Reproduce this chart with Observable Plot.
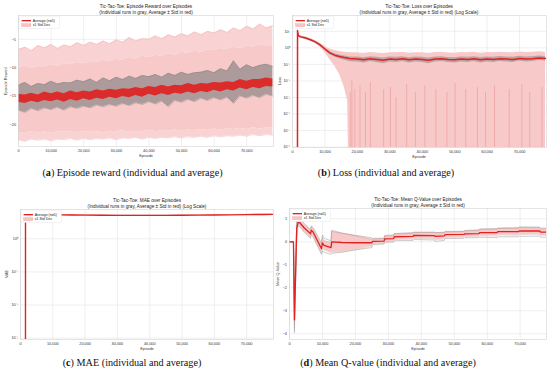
<!DOCTYPE html>
<html><head><meta charset="utf-8">
<script src="https://cdn.jsdelivr.net/npm/d3@7"></script>
<script src="https://cdn.jsdelivr.net/npm/@observablehq/plot@0.6"></script>
<style>
body{margin:0;background:#fff;}
#fig{position:relative;width:550px;height:375px;overflow:hidden;font-family:"Liberation Sans",Arial,sans-serif;}
#fig svg{position:absolute;}
.t,.yl,.xl{position:absolute;line-height:1;white-space:nowrap;color:#222;transform-origin:center center;}
.t{font-size:14.1px;transform:translate(-50%,-50%) scale(0.3333);}
.xl{font-size:11.4px;transform:translate(-50%,-50%) scale(0.3333);color:#333;}
.yl{font-size:11.4px;transform:translate(-50%,-50%) rotate(-90deg) scale(0.3333);color:#333;}
.cap{position:absolute;font-family:"Liberation Serif","DejaVu Serif",serif;font-size:10.2px;line-height:1;white-space:nowrap;transform:translate(-50%,-50%);color:#111;}
.leg{position:absolute;width:121.5px;height:37.8px;background:#fff;border:1.4px solid #dcdcdc;border-radius:3px;box-sizing:border-box;transform-origin:0 0;transform:scale(0.3333);}
.leg .row{position:absolute;font-size:10.5px;line-height:1;white-space:nowrap;color:#222;}
.leg .ln{position:absolute;height:4px;background:#e02020;}
.leg .pt{position:absolute;height:9px;background:#f7c4c4;border:1.2px solid #eda0a0;box-sizing:border-box;}
</style></head>
<body><div id="fig"></div>
<script>
// ---------- shared ----------
const xTicks = [0, 10000, 20000, 30000, 40000, 50000, 60000, 70000];

// ---------- (a) Episode reward ----------
const rewardEpisode = [0,2000,4000,6000,8000,10000,12000,14000,16000,18000,20000,22000,24000,26000,28000,30000,32000,34000,36000,38000,40000,42000,44000,46000,48000,50000,52000,54000,56000,58000,60000,62000,64000,66000,68000,70000,72000,74000,76000,78000];
const rewardAvgHigh = [-14.7,-14.8,-14.5,-14.8,-14.3,-14.6,-14.3,-14.6,-14.1,-14.4,-14.1,-14.3,-13.9,-14.1,-13.8,-14.0,-13.7,-13.8,-13.5,-13.7,-13.3,-13.5,-13.1,-13.4,-13.1,-13.2,-12.8,-13.1,-12.8,-12.9,-12.6,-12.7,-12.5,-12.6,-12.1,-12.4,-12.1,-12.1,-11.8,-12.0];
const rewardAvgLow = [-16.1,-16.3,-15.9,-16.2,-15.8,-16.0,-15.7,-16.1,-15.6,-15.9,-15.5,-15.8,-15.4,-15.6,-15.2,-15.5,-15.1,-15.3,-14.9,-15.2,-14.7,-15.0,-14.6,-14.9,-14.5,-14.7,-14.3,-14.6,-14.2,-14.4,-14.0,-14.3,-13.9,-14.1,-13.6,-13.9,-13.5,-13.7,-13.3,-13.4];
const rewardRunsHigh = [-13.1,-12.6,-13.3,-12.8,-13.0,-12.4,-12.9,-12.6,-12.7,-12.2,-12.5,-12.0,-12.6,-11.8,-12.3,-11.7,-12.1,-11.5,-11.9,-11.4,-11.6,-11.2,-11.7,-11.0,-11.4,-10.8,-11.2,-10.9,-10.8,-10.5,-10.9,-10.2,-10.6,-8.8,-10.3,-9.5,-10.0,-9.6,-9.4,-9.8];
const rewardRunsLow = [-17.5,-17.9,-17.2,-17.6,-17.1,-17.4,-17.0,-17.5,-16.9,-17.2,-16.8,-17.1,-16.6,-16.9,-16.5,-16.8,-16.3,-16.7,-16.2,-16.5,-16.0,-16.4,-15.9,-16.9,-15.8,-16.1,-15.6,-16.0,-15.4,-15.8,-15.3,-15.7,-15.2,-16.3,-15.0,-15.4,-14.9,-15.3,-14.7,-15.0];
const rewardStdUpperTop = [-6.8,-6.4,-7.0,-6.1,-6.5,-5.9,-6.6,-6.0,-6.3,-5.6,-6.1,-5.5,-5.9,-5.3,-5.8,-5.1,-5.5,-4.7,-5.3,-4.9,-5.0,-4.4,-4.9,-4.2,-4.6,-4.0,-4.4,-3.7,-4.2,-3.6,-3.9,-3.3,-3.8,-3.0,-3.5,-2.7,-3.2,-2.3,-3.0,-2.6];
const rewardStdUpperBase = [-10.0,-9.7,-10.2,-9.8,-9.9,-9.5,-9.8,-9.3,-9.5,-9.1,-9.3,-8.9,-9.1,-8.7,-8.9,-8.5,-8.7,-8.2,-8.5,-8.0,-8.2,-7.8,-8.0,-7.6,-7.8,-7.3,-7.5,-7.1,-7.3,-6.9,-7.0,-6.6,-6.8,-6.4,-6.6,-6.2,-6.4,-5.9,-6.2,-6.1];
const rewardStdLowerTop = [-21.4,-21.6,-21.3,-21.5,-21.3,-21.6,-21.3,-21.4,-21.3,-21.5,-21.2,-21.4,-21.2,-21.5,-21.2,-21.3,-21.1,-21.4,-21.2,-21.3,-21.0,-21.3,-21.1,-21.2,-21.0,-21.2,-21.0,-21.1,-20.9,-21.1,-20.8,-21.0,-20.8,-20.9,-20.7,-20.9,-20.6,-20.8,-20.6,-20.7];
const rewardStdLowerBottom = [-22.7,-23.0,-22.6,-22.8,-22.6,-22.9,-22.6,-22.7,-22.5,-22.8,-22.5,-22.7,-22.5,-22.6,-22.4,-22.7,-22.4,-22.5,-22.3,-22.6,-22.3,-22.5,-22.3,-22.4,-22.2,-22.4,-22.2,-22.3,-22.1,-22.3,-22.0,-22.2,-22.0,-22.1,-21.9,-22.1,-21.8,-22.0,-21.8,-21.9];
const rewardTicks = [-5, -10, -15, -20];

// ---------- (b) Loss ----------
const lossEpisode = [1530,1550,1800,2500,4000,5500,7000,8500,10000,11500,13000,14500,16000,17000,17500,19000,20000,22000,24000,26000,28000,30000,32000,34000,36000,38000,40000,42000,44000,46000,48000,50000,52000,54000,56000,58000,60000,62000,64000,66000,68000,70000,72000,74000,76000,78000];
const lossMean = [1e-9,11,5.5,4.6,3.9,3.1,2.3,1.5,0.85,0.5,0.36,0.3,0.26,0.24,0.23,0.22,0.21,0.19,0.22,0.2,0.18,0.21,0.2,0.22,0.19,0.21,0.2,0.18,0.21,0.22,0.2,0.19,0.21,0.2,0.22,0.19,0.21,0.2,0.22,0.21,0.2,0.23,0.21,0.22,0.24,0.23];
const lossUpper = [1e-9,12,6.6,5.4,4.6,3.7,2.8,1.9,1.2,0.85,0.68,0.6,0.55,0.52,0.5,0.5,0.5,0.46,0.53,0.49,0.45,0.51,0.5,0.54,0.47,0.51,0.5,0.46,0.52,0.54,0.49,0.47,0.52,0.5,0.54,0.47,0.52,0.5,0.55,0.52,0.5,0.56,0.52,0.54,0.58,0.55];
const lossLower = [1e-9,10,4.5,3.8,3.2,2.5,1.8,1.1,0.5,0.2,0.08,0.025,0.004,0.0006,1e-9,1e-9,1e-9,1e-9,1e-9,1e-9,1e-9,1e-9,1e-9,1e-9,1e-9,1e-9,1e-9,1e-9,1e-9,1e-9,1e-9,1e-9,1e-9,1e-9,1e-9,1e-9,1e-9,1e-9,1e-9,1e-9,1e-9,1e-9,1e-9,1e-9,1e-9,1e-9];
const lossRunsLow = [1e-9,9.8,5.0,4.2,3.6,2.8,2.0,1.3,0.7,0.4,0.28,0.22,0.18,0.16,0.15,0.14,0.14,0.12,0.15,0.13,0.11,0.14,0.13,0.15,0.12,0.14,0.13,0.11,0.14,0.15,0.13,0.12,0.14,0.13,0.15,0.12,0.14,0.13,0.15,0.14,0.13,0.16,0.14,0.15,0.17,0.16];
const lossRunsHigh = [1e-9,11.5,6.0,5.0,4.3,3.4,2.6,1.7,1.0,0.6,0.44,0.37,0.32,0.3,0.28,0.28,0.28,0.25,0.29,0.27,0.24,0.28,0.27,0.29,0.25,0.28,0.27,0.24,0.28,0.29,0.26,0.25,0.28,0.27,0.29,0.26,0.28,0.27,0.3,0.28,0.27,0.31,0.28,0.29,0.32,0.3];
const lossStreakEpisode = [17800,18300,19200,20800,22500,24000,28100,30200,31900,35200,37900,40800,44200,47600,50100,53400,57000,59500,62300,66800,70700,73100,76900];
const lossStreakTop = [2e-3,1e-2,3e-3,5e-3,2e-3,8e-3,3e-3,4e-3,1e-3,6e-3,2e-3,5e-3,3e-3,2e-3,7e-3,3e-3,4e-3,2e-3,5e-3,3e-3,6e-3,2e-3,4e-3];
const lossTicks = [1e1, 1e0, 1e-1, 1e-2, 1e-3, 1e-4, 1e-5, 1e-6];

// ---------- (c) MAE ----------
const maeEpisode = [1530,1550,4000,8000,12000,16000,20000,25000,30000,35000,40000,45000,50000,55000,60000,65000,70000,75000,78000];
const maeMean = [1e-9,5.4,5.35,5.3,5.3,5.25,5.2,5.15,5.12,5.1,5.1,5.12,5.15,5.2,5.25,5.3,5.38,5.45,5.5];
const maeUpper = [1e-9,5.55,5.5,5.45,5.45,5.4,5.35,5.3,5.27,5.25,5.25,5.27,5.3,5.35,5.4,5.45,5.53,5.6,5.65];
const maeLower = [1e-9,5.25,5.2,5.15,5.15,5.1,5.05,5.0,4.97,4.95,4.95,4.97,5.0,5.05,5.1,5.15,5.23,5.3,5.35];
const maeTicks = [1e0, 1e-1, 1e-2, 1e-3];

// ---------- (d) Mean Q-value ----------
const qEpisode = [0,1200,1500,2200,2600,3200,4500,6400,6600,7200,9700,10000,10500,12600,12800,16000,20000,25000,25200,28700,28900,31600,31800,37500,37700,44000,44200,47000,47200,53000,53200,57500,57700,63000,63200,69500,69700,76000,76200,78000];
const qMean = [0,0,-3.4,0.6,0.85,0.82,0.6,0.35,0.5,0.42,-0.3,-0.05,-0.15,-0.25,0.0,-0.03,-0.04,-0.04,0.02,0.03,0.13,0.14,0.22,0.24,0.28,0.27,0.24,0.26,0.31,0.32,0.35,0.36,0.4,0.4,0.44,0.44,0.47,0.47,0.42,0.42];
const qStd = [0,0.02,0.35,0.25,0.1,0.12,0.15,0.15,0.15,0.16,0.18,0.25,0.2,0.22,0.45,0.4,0.3,0.15,0.1,0.1,0.12,0.12,0.12,0.13,0.13,0.14,0.15,0.14,0.12,0.12,0.12,0.13,0.14,0.15,0.14,0.15,0.15,0.14,0.14,0.14];
const qRunsLow = [0,-0.02,-3.95,0.2,0.7,0.65,0.4,0.15,0.3,0.2,-0.55,-0.4,-0.45,-0.55,-0.5,-0.45,-0.35,-0.25,-0.12,-0.1,-0.02,-0.01,0.05,0.06,0.1,0.08,0.02,0.06,0.14,0.15,0.18,0.18,0.2,0.18,0.22,0.22,0.24,0.25,0.2,0.2];
const qRunsHigh = [0,0.02,-2.9,0.95,1.0,0.98,0.8,0.55,0.7,0.62,-0.05,0.3,0.15,0.05,0.5,0.38,0.28,0.18,0.15,0.16,0.28,0.3,0.36,0.4,0.42,0.42,0.4,0.42,0.45,0.46,0.5,0.52,0.56,0.58,0.6,0.62,0.65,0.64,0.6,0.6];
const qTicks = [1, 0, -1, -2, -3, -4];

// ---------- colours ----------
const RED = "#e02222", PINK = "#f8c9c9", PINK_EDGE = "#f9d3d3", GRAY = "#7f7f7f";

const fig = document.getElementById("fig");
const SUP = {"-":"⁻","0":"⁰","1":"¹","2":"²","3":"³","4":"⁴","5":"⁵","6":"⁶","7":"⁷","8":"⁸","9":"⁹"};
const logFmt = v => "10" + String(Math.round(Math.log10(v))).split("").map(c => SUP[c]).join("");
const fmtX = d3.format(",");
const fmtY = d3.format("d");

function frameMarks(yTicks, yFmt) {
  return [
    Plot.frame({stroke: "#d2d2d2", strokeWidth: 0.6}),
    Plot.axisX(xTicks, {tickSize: 0, tickPadding: 3, tickFormat: d => d === 0 ? "0" : fmtX(d), label: null, fontSize: 3.8}),
    Plot.axisY(yTicks, {tickSize: 0, tickPadding: 2.5, tickFormat: yFmt, label: null, fontSize: 3.8})
  ];
}
function gridMarks(yTicks) {
  return [
    Plot.gridX(xTicks, {stroke: "#e4e4e4", strokeOpacity: 1, strokeWidth: 0.6}),
    Plot.gridY(yTicks, {stroke: "#e4e4e4", strokeOpacity: 1, strokeWidth: 0.6})
  ];
}
function place(svg, g) {
  svg.style.left = g.L + "px"; svg.style.top = g.T + "px";
  fig.appendChild(svg);
}
function addDiv(cls, x, y, html) {
  const d = document.createElement("div");
  d.className = cls; d.style.left = x + "px"; d.style.top = y + "px"; d.innerHTML = html;
  fig.appendChild(d); return d;
}
function decorate(g, t1, t2, ylab, ylx) {
  const cx = g.L + g.ml + (g.W - g.ml - g.mr) / 2;
  const top = g.T + g.mt, bottom = g.T + g.H - g.mb;
  addDiv("t", cx, top - 9, t1);
  addDiv("t", cx, top - 3.4, t2);
  addDiv("xl", cx, bottom + 9.6, "Episode");
  addDiv("yl", ylx, (top + bottom) / 2, ylab);
  const leg = addDiv("leg", g.L + g.ml + 1.3, top + 1.2, "");
  leg.innerHTML =
    '<div class="ln" style="left:7px;top:11px;width:28px"></div>' +
    '<div class="row" style="left:40px;top:7.5px">Average (n=5)</div>' +
    '<div class="pt" style="left:7px;top:22px;width:28px"></div>' +
    '<div class="row" style="left:40px;top:21px">±1 Std Dev</div>';
}
const styleBase = {fontFamily: "'Liberation Sans', Arial, sans-serif", fontSize: "3.8px", color: "#333", background: "transparent", overflow: "visible"};

// ---------- panel (a) ----------
{
  const g = {L: 0, T: 0, W: 275, H: 160, ml: 18, mr: 2, mt: 15, mb: 14};
  const rows = rewardEpisode.map((x, i) => ({x, aH: rewardAvgHigh[i], aL: rewardAvgLow[i], rH: rewardRunsHigh[i], rL: rewardRunsLow[i],
    uT: rewardStdUpperTop[i], uB: rewardStdUpperBase[i], lT: rewardStdLowerTop[i], lB: rewardStdLowerBottom[i]}));
  const svg = Plot.plot({
    width: g.W, height: g.H, marginLeft: g.ml, marginRight: g.mr, marginTop: g.mt, marginBottom: g.mb,
    style: styleBase,
    x: {domain: [0, 78200], axis: null},
    y: {domain: [-23.9, -0.8], axis: null},
    marks: [
      ...gridMarks(rewardTicks),
      Plot.areaY(rows, {x: "x", y1: "uB", y2: "uT", fill: PINK_EDGE, clip: true}),
      Plot.areaY(rows, {x: "x", y1: "lB", y2: "lT", fill: PINK_EDGE, clip: true}),
      Plot.areaY(rows, {x: "x", y1: "lT", y2: "uB", fill: PINK, clip: true}),
      Plot.line(rows, {x: "x", y: "uT", stroke: "#f2b0b0", strokeWidth: 0.5, clip: true}),
      Plot.line(rows, {x: "x", y: "lB", stroke: "#f2b0b0", strokeWidth: 0.5, clip: true}),
      Plot.areaY(rows, {x: "x", y1: "rL", y2: "rH", fill: GRAY, fillOpacity: 0.62, clip: true}),
      Plot.line(rows, {x: "x", y: "rH", stroke: "#808080", strokeWidth: 0.4, clip: true}),
      Plot.line(rows, {x: "x", y: "rL", stroke: "#808080", strokeWidth: 0.4, clip: true}),
      Plot.areaY(rows, {x: "x", y1: "aL", y2: "aH", fill: RED, fillOpacity: 0.92, clip: true}),
      ...frameMarks(rewardTicks, fmtY)
    ]
  });
  place(svg, g);
  decorate(g, "Tic-Tac-Toe: Episode Reward over Episodes", "(Individual runs in gray, Average ± Std in red)", "Episode Reward", 6);
}

// ---------- panel (b) ----------
{
  const g = {L: 275, T: 0, W: 275, H: 160, ml: 17, mr: 4, mt: 15, mb: 13};
  const rows = lossEpisode.map((x, i) => ({x, m: lossMean[i], u: lossUpper[i], l: lossLower[i], rl: lossRunsLow[i], rh: lossRunsHigh[i]}));
  const streaks = lossStreakEpisode.map((x, i) => ({x, top: lossStreakTop[i]}));
  const svg = Plot.plot({
    width: g.W, height: g.H, marginLeft: g.ml, marginRight: g.mr, marginTop: g.mt, marginBottom: g.mb,
    style: styleBase,
    x: {domain: [0, 78300], axis: null},
    y: {type: "log", domain: [9.5e-7, 90], axis: null},
    marks: [
      ...gridMarks(lossTicks),
      Plot.areaY(rows, {x: "x", y1: "l", y2: "u", fill: PINK, clip: true}),
      Plot.ruleX(streaks, {x: "x", y1: 1e-9, y2: "top", stroke: "#eea3a3", strokeWidth: 0.8, clip: true}),
      Plot.areaY(rows, {x: "x", y1: "rl", y2: "rh", fill: GRAY, fillOpacity: 0.5, clip: true}),
      Plot.line(rows, {x: "x", y: "m", stroke: RED, strokeWidth: 1.5, clip: true}),
      ...frameMarks(lossTicks, logFmt)
    ]
  });
  place(svg, g);
  decorate(g, "Tic-Tac-Toe: Loss over Episodes", "(Individual runs in gray, Average ± Std in red) (Log Scale)", "Loss", 280);
}

// ---------- panel (c) ----------
{
  const g = {L: 0, T: 185, W: 275, H: 170, ml: 20, mr: 2, mt: 24, mb: 16};
  const rows = maeEpisode.map((x, i) => ({x, m: maeMean[i], u: maeUpper[i], l: maeLower[i]}));
  const svg = Plot.plot({
    width: g.W, height: g.H, marginLeft: g.ml, marginRight: g.mr, marginTop: g.mt, marginBottom: g.mb,
    style: styleBase,
    x: {domain: [0, 78300], axis: null},
    y: {type: "log", domain: [9.1e-4, 7.7], axis: null},
    marks: [
      ...gridMarks(maeTicks),
      Plot.areaY(rows, {x: "x", y1: "l", y2: "u", fill: PINK, clip: true}),
      Plot.line(rows, {x: "x", y: "m", stroke: RED, strokeWidth: 1.4, clip: true}),
      ...frameMarks(maeTicks, logFmt)
    ]
  });
  place(svg, g);
  decorate(g, "Tic-Tac-Toe: MAE over Episodes", "(Individual runs in gray, Average ± Std in red) (Log Scale)", "MAE", 6.7);
}

// ---------- panel (d) ----------
{
  const g = {L: 275, T: 185, W: 275, H: 170, ml: 14, mr: 4, mt: 23, mb: 16};
  const rows = qEpisode.map((x, i) => ({x, m: qMean[i], lo: qMean[i] - qStd[i], hi: qMean[i] + qStd[i], rl: qRunsLow[i], rh: qRunsHigh[i]}));
  const svg = Plot.plot({
    width: g.W, height: g.H, marginLeft: g.ml, marginRight: g.mr, marginTop: g.mt, marginBottom: g.mb,
    style: styleBase,
    x: {domain: [0, 78000], axis: null},
    y: {domain: [-4.25, 1.45], axis: null},
    marks: [
      ...gridMarks(qTicks),
      Plot.areaY(rows, {x: "x", y1: "lo", y2: "hi", fill: PINK, clip: true}),
      Plot.line(rows, {x: "x", y: "rl", stroke: "#9a9a9a", strokeWidth: 0.5, clip: true}),
      Plot.line(rows, {x: "x", y: "rh", stroke: "#9a9a9a", strokeWidth: 0.5, clip: true}),
      Plot.line(rows, {x: "x", y: "lo", stroke: "#b89494", strokeWidth: 0.35, clip: true}),
      Plot.line(rows, {x: "x", y: "hi", stroke: "#b89494", strokeWidth: 0.35, clip: true}),
      Plot.line(rows, {x: "x", y: "m", stroke: RED, strokeWidth: 1.3, clip: true}),
      ...frameMarks(qTicks, fmtY)
    ]
  });
  place(svg, g);
  decorate(g, "Tic-Tac-Toe: Mean Q-Value over Episodes", "(Individual runs in gray, Average ± Std in red)", "Mean Q-Value", 278.3);
}

// ---------- captions ----------
addDiv("cap", 132.5, 173, "(<b>a</b>) Episode reward (individual and average)");
addDiv("cap", 386, 173, "(<b>b</b>) Loss (individual and average)");
addDiv("cap", 132, 363, "(<b>c</b>) MAE (individual and average)");
addDiv("cap", 388, 363, "(<b>d</b>) Mean Q-value (individual and average)");
</script>
</body></html>
